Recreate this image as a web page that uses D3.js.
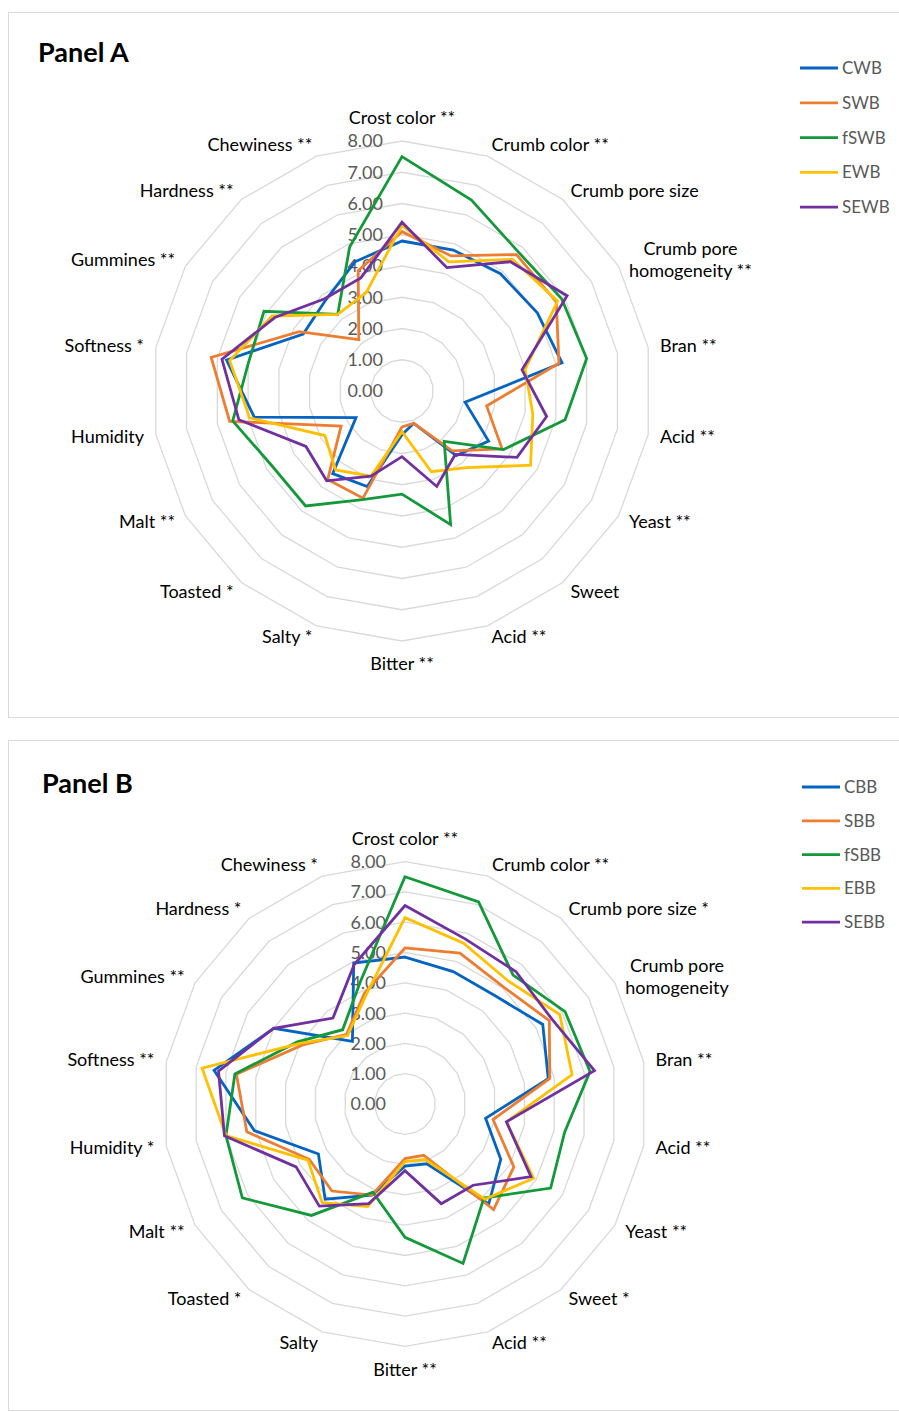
<!DOCTYPE html>
<html>
<head>
<meta charset="utf-8">
<script src="https://cdn.jsdelivr.net/npm/d3@7"></script>
<style>
  html, body { margin: 0; padding: 0; background: #ffffff; }
  svg { display: block; }
  text { font-family: Lato, "Open Sans", sans-serif; }
</style>
</head>
<body>
<svg id="chart" width="899" height="1412"></svg>
<script>
// Sensory attribute axes (clockwise from the top)
const categoriesA = ["Crost color **", "Crumb color **", "Crumb pore size", "Crumb pore|homogeneity **", "Bran **", "Acid **", "Yeast **", "Sweet", "Acid **", "Bitter **", "Salty *", "Toasted *", "Malt **", "Humidity", "Softness *", "Gummines **", "Hardness **", "Chewiness **"];
const categoriesB = ["Crost color **", "Crumb color **", "Crumb pore size *", "Crumb pore|homogeneity", "Bran **", "Acid **", "Yeast **", "Sweet *", "Acid **", "Bitter **", "Salty", "Toasted *", "Malt **", "Humidity *", "Softness **", "Gummines **", "Hardness *", "Chewiness *"];

// Panel A: wheat breads
const namesA = ["CWB", "SWB", "fSWB", "EWB", "SEWB"];
const CWB  = [4.8, 4.8, 4.9, 5.0, 5.2, 2.05, 3.2, 2.7, 1.1, 1.4, 3.25, 3.45, 1.7, 4.8, 5.7, 3.65, 3.8, 4.4];
const SWB  = [5.1, 4.6, 5.7, 5.7, 5.1, 2.75, 3.7, 2.5, 1.1, 1.15, 3.65, 3.7, 2.25, 5.6, 6.2, 3.8, 2.15, 4.1];
const fSWB = [7.5, 6.5, 5.8, 5.9, 6.0, 5.3, 3.75, 2.1, 4.55, 3.3, 3.7, 4.8, 4.8, 5.5, 5.0, 5.1, 3.2, 4.9];
const EWB  = [5.3, 4.4, 5.5, 5.75, 4.0, 4.25, 4.75, 3.2, 2.75, 1.3, 2.9, 3.3, 2.85, 4.95, 5.6, 4.8, 3.2, 3.35];
const SEWB = [5.4, 4.2, 5.4, 6.1, 3.9, 4.7, 4.25, 2.65, 3.25, 2.1, 2.9, 3.75, 3.55, 5.3, 5.85, 4.7, 3.85, 3.85];

// Panel B: bran breads
const namesB = ["CBB", "SBB", "fSBB", "EBB", "SEBB"];
const CBB  = [4.85, 4.65, 4.65, 5.25, 4.8, 2.7, 3.65, 4.3, 2.1, 2.05, 3.2, 4.1, 3.3, 5.05, 6.4, 5.0, 2.7, 4.95];
const SBB  = [5.15, 5.3, 5.05, 5.5, 4.85, 2.95, 4.15, 4.55, 1.8, 1.8, 3.2, 3.75, 3.65, 5.3, 5.65, 3.9, 3.0, 3.9];
const fSBB = [7.5, 7.1, 5.55, 6.1, 6.2, 5.35, 5.55, 4.05, 5.6, 4.4, 3.1, 4.8, 6.2, 6.0, 5.7, 4.1, 3.2, 4.3];
const EBB  = [6.15, 5.65, 5.3, 5.9, 5.6, 3.4, 4.9, 4.1, 1.95, 1.9, 3.6, 4.25, 3.7, 6.0, 6.8, 4.0, 2.95, 3.8];
const SEBB = [6.55, 5.8, 5.7, 5.6, 6.35, 3.4, 4.8, 3.5, 3.5, 2.2, 3.5, 4.4, 4.15, 6.05, 6.25, 5.0, 3.7, 4.9];

// Radial axis ticks
const tickValues = [0, 1, 2, 3, 4, 5, 6, 7, 8];
const seriesColors = ["#0563c1", "#ed7d31", "#13993a", "#ffc000", "#7030a0"];

const panels = [
  { title: "Panel A", names: namesA, values: [CWB, SWB, fSWB, EWB, SEWB], categories: categoriesA,
    frame: [8, 12, 900, 705], titlePos: [38, 62], cx: 402, cy: 391, radius: 250,
    legendX: 800, legendY: 68, legendStep: 34.8 },
  { title: "Panel B", names: namesB, values: [CBB, SBB, fSBB, EBB, SEBB], categories: categoriesB,
    frame: [8, 740, 900, 670], titlePos: [42, 793], cx: 405, cy: 1104, radius: 242.4,
    legendX: 802, legendY: 787, legendStep: 33.8 }
];

const svg = d3.select("#chart");
const n = 18;
const angle = d3.scaleLinear().domain([0, n]).range([0, 2 * Math.PI]);

panels.forEach(p => {
  const g = svg.append("g");

  g.append("rect")
    .attr("x", p.frame[0] + 0.5).attr("y", p.frame[1] + 0.5)
    .attr("width", p.frame[2]).attr("height", p.frame[3])
    .attr("fill", "#ffffff").attr("stroke", "#d9d9d9").attr("stroke-width", 1);

  g.append("text")
    .attr("x", p.titlePos[0]).attr("y", p.titlePos[1])
    .attr("font-size", 27).attr("font-weight", "bold").attr("fill", "#000000")
    .text(p.title);

  const r = d3.scaleLinear().domain([0, 8]).range([0, p.radius]);
  const plot = g.append("g").attr("transform", `translate(${p.cx},${p.cy})`);

  const radial = d3.lineRadial()
    .angle((d, i) => angle(i))
    .radius(d => r(d))
    .curve(d3.curveLinearClosed);

  // polygonal gridlines
  plot.selectAll("path.grid")
    .data(tickValues.filter(t => t > 0))
    .join("path")
    .attr("class", "grid")
    .attr("d", t => radial(d3.range(n).map(() => t)))
    .attr("fill", "none").attr("stroke", "#d9d9d9").attr("stroke-width", 1.3);

  // tick labels along the vertical axis
  plot.selectAll("text.tick")
    .data(tickValues)
    .join("text")
    .attr("class", "tick")
    .attr("x", -19)
    .attr("y", t => -r(t))
    .attr("dy", "0.36em")
    .attr("text-anchor", "end")
    .attr("font-size", 18).attr("fill", "#595959")
    .text(t => d3.format(".2f")(t));

  // category labels
  const labelR = r(8) + 12;
  p.categories.forEach((c, i) => {
    const a = angle(i);
    const s = Math.sin(a), co = Math.cos(a);
    let x = labelR * s, y = -labelR * co;
    let anchor = "middle";
    if (Math.abs(s) < 0.1) { y += co > 0 ? -11 : 11; }
    else anchor = s > 0 ? "start" : "end";
    const lines = c.split("|");
    const t = plot.append("text")
      .attr("font-size", 18).attr("fill", "#000000")
      .attr("text-anchor", anchor);
    if (lines.length === 1) {
      t.attr("x", x).attr("y", y).attr("dy", "0.35em").text(c);
    } else {
      // two-line label, centered inside its block
      const tmp = lines.map(l => {
        const tt = plot.append("text").attr("font-size", 18).text(l);
        const w = tt.node().getComputedTextLength();
        tt.remove();
        return w;
      });
      const bw = d3.max(tmp);
      const left = anchor === "start" ? x : anchor === "end" ? x - bw : x - bw / 2;
      t.attr("text-anchor", "middle");
      lines.forEach((l, k) => {
        t.append("tspan")
          .attr("x", left + bw / 2)
          .attr("y", y + (k - (lines.length - 1) / 2) * 22)
          .attr("dy", "0.35em")
          .text(l);
      });
    }
  });

  // series polygons
  plot.selectAll("path.series")
    .data(p.values)
    .join("path")
    .attr("class", "series")
    .attr("d", v => radial(v))
    .attr("fill", "none")
    .attr("stroke", (v, i) => seriesColors[i])
    .attr("stroke-width", 2.8)
    .attr("stroke-linejoin", "miter");

  // legend
  const lg = g.append("g");
  p.names.forEach((name, i) => {
    const y = p.legendY + i * p.legendStep;
    lg.append("line")
      .attr("x1", p.legendX).attr("x2", p.legendX + 38)
      .attr("y1", y).attr("y2", y)
      .attr("stroke", seriesColors[i]).attr("stroke-width", 2.8);
    lg.append("text")
      .attr("x", p.legendX + 42).attr("y", y).attr("dy", "0.35em")
      .attr("font-size", 17).attr("fill", "#595959")
      .text(name);
  });
});
</script>
</body>
</html>
